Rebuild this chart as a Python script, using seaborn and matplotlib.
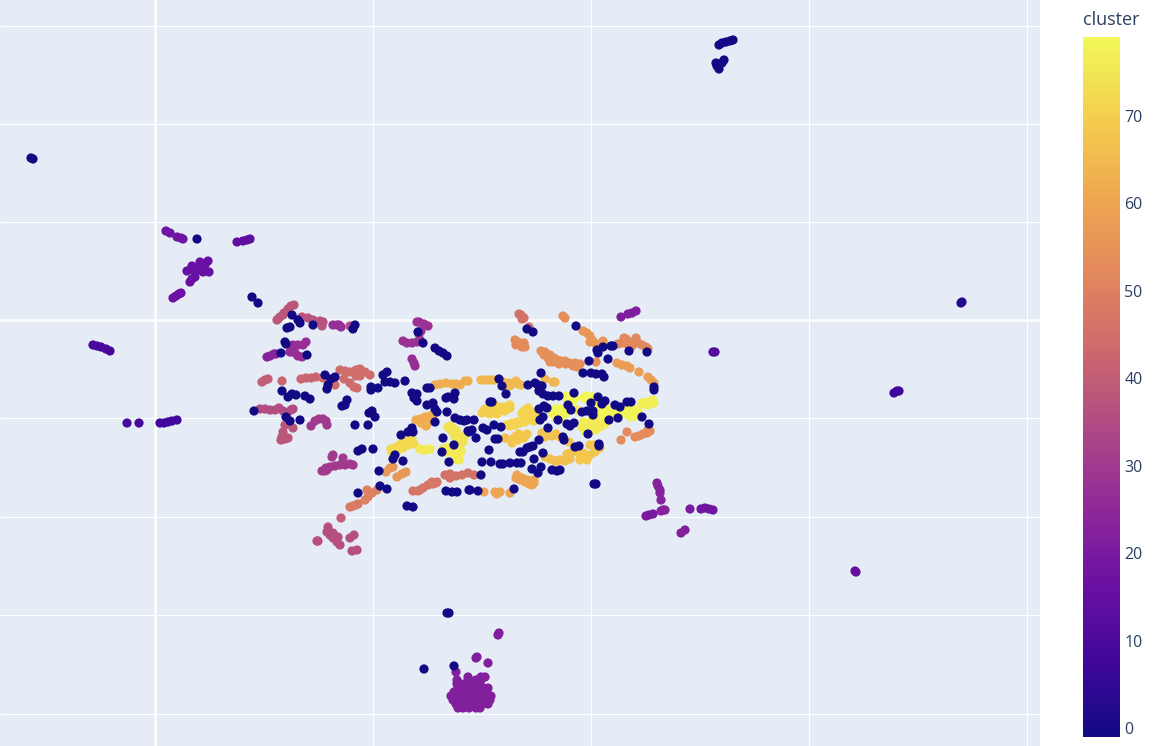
import numpy as np
import pandas as pd
import matplotlib.pyplot as plt
import seaborn as sns
from matplotlib.cm import ScalarMappable
from matplotlib.colors import LinearSegmentedColormap, Normalize

# the axes have no labels, so values are kept in the units read off the picture
noise = [(252,297),(258,303),(292,315),(298,320),(300,323),(287,328),(290,327),(313,325),(355,325),(353,329),
    (285,342),(286,344),(281,353),(307,355),(325,375),(335,377),(331,379),(328,385),(327,389),
    (282,391),(288,397),(292,394),(296,395),(305,396),(310,399),(387,372),(383,375),(385,382),(390,382),(395,383),(405,381),
    (371,387),(371,390),(378,388),(412,393),(417,394),(414,398),(417,401),(427,388),(430,388),
    (347,400),(345,405),(342,406),(254,411),(286,417),(290,421),(300,420),(355,425),(368,425),(372,411),(369,413),(375,417),
    (423,343),(418,332),(435,348),(439,351),(443,353),(447,356),(358,451),(362,449),(373,449),
    (379,471),(380,486),(387,489),(358,493),(407,506),(413,507),(393,459),(395,455),(403,461),
    (401,435),(408,432),(412,428),(413,432),(443,438),(454,445),(449,462),(442,452),
    (446,491),(452,492),(457,492),(469,490),(455,393),(454,399),(446,398),(448,397),
    (427,405),(433,403),(435,409),(437,412),(435,422),(447,412),(455,418),(460,420),(464,421),(468,431),
    (527,329),(533,332),(576,326),(597,350),(598,353),(603,347),(611,346),(613,346),(629,351),(647,352),
    (589,361),(608,359),(583,373),(591,373),(596,374),(602,374),(604,377),(541,373),
    (499,379),(502,386),(506,394),(528,385),(535,383),(538,385),(542,386),(539,391),(543,394),(548,396),(553,396),(559,396),
    (490,402),(492,402),(574,393),(568,405),(571,410),(598,397),(605,401),(602,404),(591,403),
    (615,405),(620,407),(627,402),(631,402),(582,412),(587,411),(593,411),(593,415),
    (544,406),(539,409),(547,408),(543,417),(540,420),(558,420),(567,424),(570,426),(574,423),
    (609,420),(618,418),(642,417),(649,424),(467,420),(474,420),(472,430),(469,432),(476,438),
    (483,428),(487,430),(494,425),(501,427),(548,428),(495,439),(498,439),(539,440),(563,437),(564,440),
    (533,446),(530,447),(527,448),(523,452),(520,452),(489,450),(543,453),(534,459),
    (575,447),(579,446),(588,434),(599,444),(599,446),(482,462),(491,462),(500,464),(503,464),(510,463),(517,463),(521,463),
    (532,469),(541,467),(538,473),(552,470),(557,471),(560,470),(481,475),(594,484),(596,484),
    (470,490),(478,491),(514,489),(654,387),(654,390),
    (719,45),(722,43),(726,42),(730,41),(733,40),(716,63),(717,66),(719,69),(722,63),(724,60),
    (31,158),(33,159),(197,239),(447,613),(449,613),(424,669),(454,666)]

far_right = [(961,303),(962,302)]
c8 = [(894,393),(897,391),(899,391),(160,423),(164,423),(168,422),(172,421),(177,420)]
c9 = [(93,345),(97,346),(101,347),(106,349),(110,351),(127,423),(139,423)]
c12 = [(713,352),(715,352)]
c14 = [(237,242),(243,241),(247,240),(250,239)]
c15 = [(855,571),(856,572)]
c16 = [(187,271),(192,266),(197,268),(200,262),(205,265),(208,261),(209,272),(203,272),(195,272),(190,282),(192,279),(195,277)]
c17 = [(173,298),(176,296),(179,294),(181,293)]
c18 = [(166,231),(170,233),(177,237),(181,238),(183,239),(701,509),(705,508),(709,509),(713,510)]
c20 = [(646,516),(649,515),(653,514),(690,509)]
c21 = [(621,317),(628,314),(632,313),(636,311)]
c22 = [(681,533),(685,530),(498,635),(499,633),(456,672),(477,657),(476,658),(488,663),
    (458,708),(463,708),(469,708),(476,708),(480,708),
    (456,704),(460,704),(465,704),(470,704),(474,704),(478,704),(483,704),(488,704),
    (453,700),(457,700),(461,700),(465,700),(469,700),(473,700),(477,700),(481,700),(485,700),(490,700),
    (451,696),(455,696),(459,696),(463,696),(467,696),(471,696),(475,696),(479,696),(483,696),(487,696),(491,696),
    (454,692),(458,692),(462,692),(466,692),(470,692),(474,692),(478,692),(482,692),(486,692),
    (458,688),(462,688),(466,688),(470,688),(475,688),(479,688),(483,688),(488,688),
    (457,684),(461,684),(467,684),(473,684),(480,684),(457,680),(468,680),(476,680),(481,680),(468,677),(481,677),(485,677)]
c23 = [(267,357),(270,356),(274,354),(276,354),(657,483),(658,486),(660,490),(660,493),(661,500),(663,510),(665,510),(661,511)]
c27 = [(333,325),(337,325),(339,325),(341,327),(412,359),(414,363),(415,366),
    (290,352),(295,353),(298,356),(302,357),(293,345),(298,345),(303,345),(306,342),(293,350)]
c28 = [(403,341),(407,343),(412,343),(417,342),(420,340),(419,334),(421,331),(417,322),(419,322),(424,324),(428,326)]
c30 = [(311,426),(315,421),(319,419),(323,419),(326,421),(327,425),
    (322,471),(326,468),(330,467),(335,466),(340,465),(345,465),(350,464),(353,465),(333,455),(332,457),(343,458),(327,470),(325,471)]
c35 = [(260,409),(265,409),(270,410),(275,410),(279,408),(283,411),(287,413),(291,410),(293,409),(350,326)]
c36 = [(328,527),(327,532),(330,535),(333,538),(337,542),(340,545),(338,537),(317,541),(318,541),(350,538),(354,535),(352,551),(357,550),(333,533)]
c37 = [(302,317),(308,318),(313,320),(320,321),(323,322),(322,326)]
c38 = [(277,320),(280,317),(284,313),(288,309),(291,306),(294,305),(278,319),(283,315),
    (285,425),(288,424),(293,428),(283,432),(282,437),(281,440),(285,439),(288,438)]
c40 = [(262,382),(265,380),(268,379),(341,518)]
c42 = [(282,381),(301,379),(306,378),(311,378),(316,377)]
c44 = [(323,378),(335,385),(340,370),(345,371),(350,372),(356,370),(360,369),(365,372),(370,375),
    (344,379),(350,383),(354,387),(357,388),(360,376),(356,376)]
c46 = [(519,314),(521,315),(522,319),(524,318),(529,327),(445,475),(450,474),(456,476),(462,475),(468,473),(474,475),(450,478)]
c47 = [(413,491),(418,491),(423,488),(428,485),(433,484),(436,483),(432,482),(437,482),(420,490)]
c48 = [(350,507),(353,506),(356,505),(358,504)]
c50 = [(367,490),(368,497),(365,500),(372,493),(377,490)]
c52 = [(618,344),(622,343),(626,339),(630,343),(634,341),(638,343),(642,345),(646,347),(648,349),(627,344),(632,346),(624,338),(636,338)]
c53 = [(515,340),(518,342),(522,347),(525,347),(520,344),(524,343),(516,345),(621,440),(627,432),(635,437),(639,436),(643,434),(647,433),(650,431),(648,430)]
c54 = [(541,351),(545,352),(550,355),(554,358),(557,360),(561,361),(565,361),(569,363),(573,366),(577,367),(580,364),(550,362),(563,316),(565,318),(596,362),
    (553,362),(559,364),(566,364),(548,358),(544,355),(575,363)]
c56 = [(583,331),(587,333),(590,336),(592,340),(590,342),(595,343),(603,341),(386,472),(390,468),(393,467),(397,477),(402,474),(406,472)]
c58 = [(617,363),(622,365),(627,366),(630,368),(639,372),(648,377),(651,380),(654,383)]
c60 = [(517,475),(520,480),(525,482),(529,484),(532,485),(531,481),(484,492),(495,492),(497,494),(500,492),(510,493),(516,478),(522,478),(527,480),(534,483),(534,480)]
c62 = [(435,385),(440,384),(446,383),(452,384),(456,384),(460,385),(465,381),(468,381),(416,420),(420,419),(425,417),(430,416),(433,415),(427,424),(426,426),(430,420),(421,423)]
c64 = [(481,380),(485,380),(490,380),(494,380),(545,379),(553,382),(555,382)]
c65 = [(503,382),(508,383),(513,383),(518,384),(521,385),(505,385),(510,386),(516,381)]
c66 = [(505,438),(545,457),(550,459),(555,461),(560,460),(557,461)]
c67 = [(542,433),(545,437),(552,436),(556,434),(560,437),(569,442),(565,461),(570,459),(567,454),(571,453)]
c68 = [(513,439),(516,436),(519,434),(527,434),(580,455),(582,458),(585,457),(583,453),(590,455),(595,452),(600,448),(590,445),(594,445),
    (512,443),(518,440),(524,438),(521,437),(578,452),(587,460),(580,460)]
c70 = [(482,413),(487,412),(492,411),(497,410),(500,407),(505,407),(510,408),(495,405),(485,409),(490,414),(500,411),(505,411),(510,405),(497,414)]
c71 = [(507,425),(512,423),(517,422),(522,420),(527,417),(522,413),(527,412),(533,412),(535,417),(525,410),(536,416),
    (510,426),(515,425),(520,423),(525,422),(530,419),(532,415),(528,408),(538,413),(534,421)]
c72 = [(391,449),(396,447),(401,444),(406,441),(410,441),(414,444),(392,452),(398,450),(403,448),(408,445),(412,438),(406,437)]
c74 = [(448,427),(451,430),(454,433),(458,435),(461,437),(462,441),(460,445),(463,442),(450,426),(453,428),(457,431),(455,437),(459,441),(464,437),(458,446)]
c76 = [(420,449),(423,450),(426,450),(430,449),(443,449),(448,447),(452,449),(456,453),(459,454),(458,458),(455,459),
    (446,452),(450,452),(455,449),(461,451),(459,460),
    (577,410),(582,427),(586,425),(590,423),(595,425),(600,427),(592,420),(600,422),(605,424),
    (583,422),(587,428),(592,428),(597,420),(603,419),(606,421),(585,431),(590,431),(595,430)]
c77 = [(642,403),(646,402),(650,402),(654,403),(644,404),(648,405),(653,400)]
c78 = [(552,411),(556,413),(560,412),(565,411),(562,417),(557,418),(597,406),(601,410),(605,412),(610,411),(615,410),(622,413),(603,415),(610,416),
    (627,408),(630,411),(632,414),(635,414),(638,411),(628,415),
    (555,409),(560,409),(556,417),(553,414),(565,414),(595,408),(600,407),(605,407),(608,414),(613,414),(618,412),(598,412),(630,408),(634,409),(636,416),(631,417)]
c79 = [(567,398),(571,397),(575,398),(568,401),(584,398),(590,398),(594,400),(570,399),(573,401),(566,396),(586,396),(589,400),(592,397)]

groups = [(3,far_right),(8,c8),(9,c9),(12,c12),(14,c14),(15,c15),(16,c16),(17,c17),(18,c18),(20,c20),(21,c21),(22,c22),(23,c23),
    (27,c27),(28,c28),(30,c30),(35,c35),(36,c36),(37,c37),(38,c38),(40,c40),(42,c42),(44,c44),(46,c46),(47,c47),(48,c48),(50,c50),
    (52,c52),(53,c53),(54,c54),(56,c56),(58,c58),(60,c60),(62,c62),(64,c64),(65,c65),(66,c66),(67,c67),(68,c68),(70,c70),(71,c71),
    (72,c72),(74,c74),(76,c76),(77,c77),(78,c78),(79,c79),(-1,noise)]

x_grid = [155, 373, 591, 809, 1027]
y_grid = [26, 124, 222, 320, 418, 517, 615, 714]
cbar_ticks = [0, 10, 20, 30, 40, 50, 60, 70]

rows = [(x, y, c) for c, pts in groups for x, y in pts]
df = pd.DataFrame(rows, columns=['x', 'y', 'cluster'])

# plasma stops, a bit duller to match the colours seen in the picture
plasma = LinearSegmentedColormap.from_list('muted_plasma', ['#120a85', '#42079a', '#6c11a2', '#922a98', '#b04a84',
                                                            '#cd6a6c', '#e3895c', '#efa94f', '#f4cf4e', '#f1f858'])
norm = Normalize(vmin=-1, vmax=79)

sns.set_style("darkgrid", {'axes.facecolor': '#E5ECF6', 'grid.color': 'white'})
plt.rcParams['font.family'] = ['Open Sans', 'DejaVu Sans']

fig = plt.figure(figsize=(11.66, 7.46), dpi=100)
ax = fig.add_axes([0, 0, 1040 / 1166, 1])
sns.scatterplot(data=df, x='x', y='y', hue='cluster', hue_norm=norm, palette=plasma,
                s=44, linewidth=0, legend=False, ax=ax)

ax.set_xlim(0, 1040)
ax.set_ylim(746, 0)
ax.set_xticks(x_grid)
ax.set_yticks(y_grid)
ax.set_xticklabels([])
ax.set_yticklabels([])
ax.set_xlabel('')
ax.set_ylabel('')
ax.tick_params(length=0)
ax.grid(True, color='white', linewidth=0.75)
ax.set_axisbelow(True)
ax.axhline(320, color='white', linewidth=1.8, zorder=0.9)
ax.axvline(155, color='white', linewidth=1.8, zorder=0.9)
for side in ax.spines.values():
    side.set_visible(False)

cax = fig.add_axes([1083 / 1166, 1 - 737 / 746, 37 / 1166, 700 / 746])
cbar = fig.colorbar(ScalarMappable(norm=norm, cmap=plasma), cax=cax, ticks=cbar_ticks)
cbar.outline.set_visible(False)
cax.tick_params(length=0, pad=3, labelsize=11.5, labelcolor='#2a3f5f')
cax.text(0, 1.012, 'cluster', transform=cax.transAxes, fontsize=13, color='#2a3f5f', ha='left', va='bottom')

plt.savefig('out.png', dpi=100)
